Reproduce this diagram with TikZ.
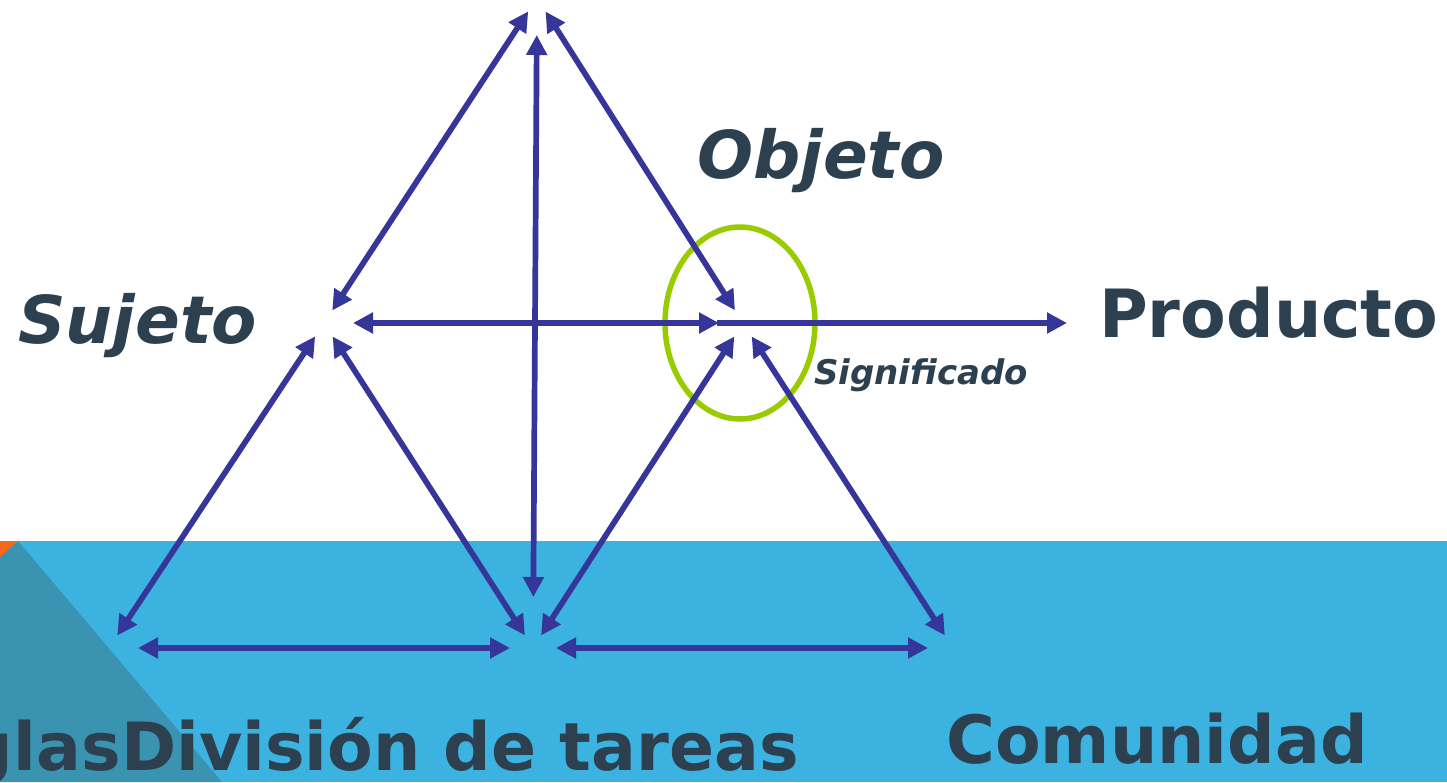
\documentclass[tikz,border=0pt]{standalone}
\usepackage{fontspec}
\setmainfont{DejaVu Sans}
\usetikzlibrary{arrows.meta,positioning}
\definecolor{flecha}{HTML}{35359A}
\definecolor{texto}{HTML}{2C4050}
\definecolor{banda}{HTML}{3BB2E0}
\definecolor{sombra}{HTML}{3A93B0}
\definecolor{naranja}{HTML}{F26B1D}
\definecolor{verde}{HTML}{99CC00}
\tikzset{
every node/.style={inner sep=0pt,text=texto},
style1/.style={font=\fontsize{66}{70}\selectfont\bfseries\itshape},
style2/.style={font=\fontsize{66.5}{70}\selectfont\bfseries},
style3/.style={font=\fontsize{34}{36}\selectfont\bfseries\itshape},
link/.style={<->,draw=flecha,line width=5.7pt}
}

\begin{document}
\begin{tikzpicture}[x=1pt,y=-1pt,>={Triangle[length=20pt,width=20pt]}]
\useasboundingbox (0,0) rectangle (1447,782);
\fill[white] (0,0) rectangle (1447,782);

% fondo
\fill[banda] (0,541) rectangle (1447,782);
\fill[sombra] (18,541) -- (222,782) -- (0,782) -- (0,541) -- cycle;
\fill[naranja] (0,541) -- (18,541) -- (0,557) -- cycle;

% vertices
\coordinate (apex) at (537,-2);
\coordinate (suj) at (324,323);
\coordinate (obj) at (743,323);
\coordinate (reg) at (109,648);
\coordinate (div) at (533,648);
\coordinate (com) at (953,648);
\coordinate (prod) at (1067,323);

\draw[verde,line width=5.5pt] ([xshift=-3pt]obj) ellipse (75 and 96);

\foreach \a/\b in {apex/suj,apex/obj,suj/reg,suj/div,obj/div,obj/com}
  \draw[link,shorten <=16pt,shorten >=15pt] (\a) -- (\b);

\draw[link,shorten <=37pt,shorten >=51pt] (apex) -- (div);
\draw[link,shorten <=29pt,shorten >=24pt] (suj) -- (obj);
\draw[link,shorten <=29pt,shorten >=23pt] (reg) -- (div);
\draw[link,shorten <=23pt,shorten >=25pt] (div) -- (com);
\draw[->,draw=flecha,line width=5.7pt,shorten <=-26pt] (obj) -- (prod);

% textos
\node[style1,anchor=base west] (t1) at (697,178) {Objeto};
\node[style1,anchor=base west] (t2) at (18,343) {Sujeto};
\node[style2,anchor=base west] (t3) at (1099,337) {Producto};
\node[style3,anchor=base west] (t4) at (814,384) {Significado};
\node[style2,anchor=base east] (t5) at (121,770) {Reglas};
\node[style2,anchor=base west] (t6) at (121,770) {División de tareas};
\node[style2,anchor=base west] (t7) at (946,763) {Comunidad};
\end{tikzpicture}
\end{document}
